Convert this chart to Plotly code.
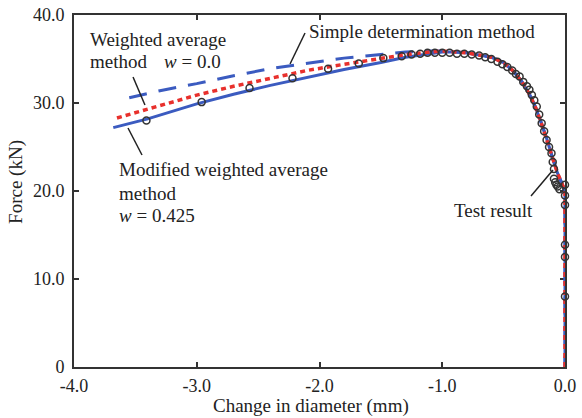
import plotly.graph_objects as go

# ---- data (mm, kN) ----
simple_x = [-3.55, -3.3, -3.0, -2.7, -2.4, -2.1, -1.8, -1.5, -1.3, -1.1, -1.0, -0.9, -0.8, -0.6, -0.5, -0.42, -0.35, -0.29, -0.24, -0.20, -0.15, -0.10, -0.06, -0.02, 0.0, 0.0]
simple_y = [30.6, 31.4, 32.2, 33.1, 33.9, 34.5, 35.1, 35.5, 35.8, 35.9, 35.9, 35.8, 35.7, 35.2, 34.6, 33.6, 32.4, 31.0, 29.5, 28.0, 26.0, 23.7, 22.0, 20.7, 20.0, 0.0]

weighted_x = [-3.65, -3.3, -3.0, -2.7, -2.4, -2.1, -1.8, -1.5, -1.3, -1.1, -1.0, -0.9, -0.8, -0.6, -0.5, -0.42, -0.35, -0.29, -0.24, -0.20, -0.15, -0.10, -0.06, -0.02, 0.0, 0.0]
weighted_y = [28.3, 29.7, 30.9, 31.9, 32.8, 33.7, 34.4, 35.1, 35.5, 35.8, 35.9, 35.8, 35.7, 35.2, 34.6, 33.6, 32.4, 31.0, 29.5, 28.0, 26.0, 23.7, 22.0, 20.7, 20.0, 0.0]

modified_x = [-3.68, -3.4, -3.0, -2.7, -2.4, -2.1, -1.8, -1.5, -1.3, -1.1, -1.0, -0.9, -0.8, -0.6, -0.5, -0.42, -0.35, -0.29, -0.24, -0.20, -0.15, -0.10, -0.06, -0.02, 0.0, 0.0]
modified_y = [27.2, 28.2, 29.9, 31.0, 32.0, 32.9, 33.8, 34.6, 35.2, 35.6, 35.8, 35.8, 35.7, 35.2, 34.6, 33.6, 32.4, 31.0, 29.5, 28.0, 26.0, 23.7, 22.0, 20.7, 20.0, 0.0]

test_x = [-3.41, -2.96, -2.57, -2.22, -1.93, -1.68, -1.48, -1.33, -1.25, -1.18, -1.12, -1.06, -1.00, -0.94,
          -0.88, -0.82, -0.76, -0.70, -0.65, -0.60, -0.55, -0.51, -0.47, -0.43, -0.40, -0.37, -0.34, -0.31,
          -0.29, -0.27, -0.25, -0.23, -0.21, -0.19, -0.17, -0.15, -0.13, -0.11, -0.10, -0.09,
          -0.09, -0.08, -0.07, -0.06, -0.045, 0.0, 0.0, 0.0, 0.0, 0.0, 0.0]
test_y = [28.0, 30.1, 31.7, 32.8, 33.9, 34.5, 35.1, 35.3, 35.5, 35.6, 35.7, 35.7, 35.7, 35.7,
          35.6, 35.6, 35.5, 35.4, 35.2, 35.0, 34.7, 34.4, 34.1, 33.7, 33.3, 33.0, 32.4, 31.9,
          31.5, 30.9, 30.3, 29.6, 28.7, 27.7, 26.8, 25.8, 25.0, 24.3, 23.3, 22.5,
          21.4, 21.0, 20.7, 20.5, 20.2, 20.7, 19.5, 18.4, 13.9, 12.5, 8.0]

x_ticks = [-4, -3, -2, -1, 0]
x_tick_labels = ["-4.0", "-3.0", "-2.0", "-1.0", "0.0"]
y_ticks = [0, 10, 20, 30, 40]
y_tick_labels = ["0", "10.0", "20.0", "30.0", "40.0"]

BLUE = "#3b5bc0"
RED = "#e8302c"
INK = "#222222"
FONT = "Liberation Serif, Times New Roman, serif"

fig = go.Figure()
fig.add_trace(go.Scatter(x=modified_x, y=modified_y, mode="lines", cliponaxis=False,
                         line=dict(color=BLUE, width=3), name="Modified weighted average"))
fig.add_trace(go.Scatter(x=simple_x, y=simple_y, mode="lines", cliponaxis=False,
                         line=dict(color=BLUE, width=3, dash="18px,12px"), name="Simple determination"))
fig.add_trace(go.Scatter(x=weighted_x, y=weighted_y, mode="lines", cliponaxis=False,
                         line=dict(color=RED, width=3.5, dash="5px,4px"), name="Weighted average"))
fig.add_trace(go.Scatter(x=test_x, y=test_y, mode="markers", cliponaxis=False,
                         marker=dict(symbol="circle-open", size=7, color="#333333", line=dict(width=1.5)),
                         name="Test result"))

def txt(text, x, y, xanchor="left"):
    fig.add_annotation(text=text, x=x, y=y, xref="x", yref="y", xanchor=xanchor, yanchor="middle",
                       showarrow=False, font=dict(family=FONT, size=19, color=INK))

txt("Weighted average", -3.886, 37.27)
txt("method", -3.886, 34.66)
txt("<i>w</i> = 0.0", -3.283, 34.66)
txt("Simple determination method", -2.102, 38.18)
txt("Modified weighted average", -3.650, 22.39)
txt("method", -3.650, 19.77)
txt("<i>w</i> = 0.425", -3.650, 17.16)
txt("Test result", -0.921, 17.73)

for (x0, y0, x1, y1) in [(-3.519, 32.95, -3.422, 29.77),
                         (-3.560, 27.16, -3.446, 24.09),
                         (-2.240, 34.43, -2.118, 37.95),
                         (-0.277, 19.43, -0.098, 22.39)]:
    fig.add_shape(type="line", x0=x0, y0=y0, x1=x1, y1=y1, xref="x", yref="y",
                  line=dict(color=INK, width=1.5))

# axis titles
fig.add_annotation(text="Force (kN)", x=-0.118, y=0.526, xref="paper", yref="paper", textangle=-90,
                   showarrow=False, xanchor="center", yanchor="middle",
                   font=dict(family=FONT, size=19, color=INK))
fig.add_annotation(text="Change in diameter (mm)", x=0.483, y=-0.111, xref="paper", yref="paper",
                   showarrow=False, xanchor="center", yanchor="middle",
                   font=dict(family=FONT, size=19, color=INK))

axis_common = dict(showline=True, linewidth=2, linecolor="#333333", mirror="ticks",
                   ticks="inside", ticklen=5, tickwidth=1.5, tickcolor="#333333",
                   showgrid=False, zeroline=False, layer="below traces", automargin=False,
                   tickfont=dict(family=FONT, size=18, color=INK))
fig.update_xaxes(range=[-4, 0], tickvals=x_ticks, ticktext=x_tick_labels, ticklabelstandoff=1, **axis_common)
fig.update_yaxes(range=[0, 40], tickvals=y_ticks, ticktext=y_tick_labels, ticklabelstandoff=4, **axis_common)

fig.update_layout(template="none", width=582, height=418, margin=dict(l=74, r=17, t=15, b=51),
                  plot_bgcolor="white", paper_bgcolor="white", showlegend=False)

fig.write_html("out.html", config={"displayModeBar": False},
               post_script="document.body.style.margin='0px';document.body.style.overflow='hidden';")
